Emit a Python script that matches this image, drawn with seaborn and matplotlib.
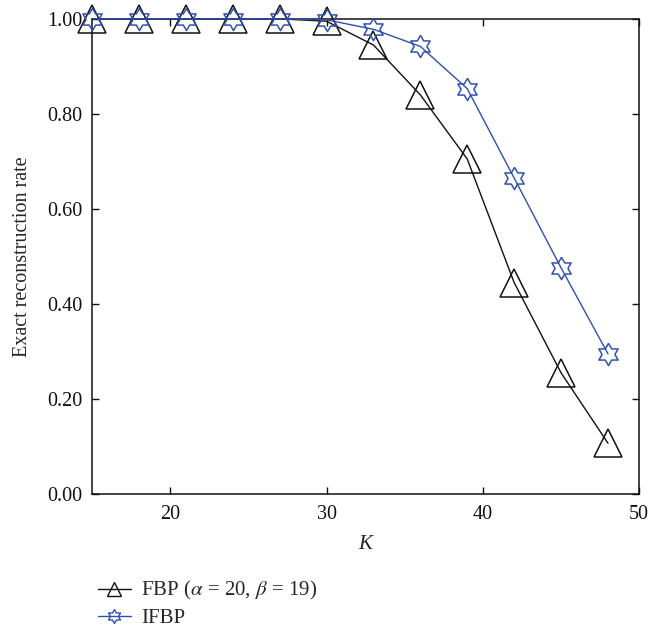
import numpy as np
import matplotlib
matplotlib.use("Agg")
import matplotlib.pyplot as plt
import seaborn as sns
from matplotlib.lines import Line2D

# data
K = [15, 18, 21, 24, 27, 30, 33, 36, 39, 42, 45, 48]
fbp = [1.0, 1.0, 1.0, 1.0, 1.0, 0.995, 0.945, 0.84, 0.705, 0.445, 0.255, 0.107]
ifbp = [1.0, 1.0, 1.0, 1.0, 1.0, 0.998, 0.978, 0.942, 0.853, 0.665, 0.476, 0.295]
labels = [r"FBP ($\alpha$ = 20, $\beta$ = 19)", "IFBP"]
xticks = [20, 30, 40, 50]
yticks = [0.0, 0.2, 0.4, 0.6, 0.8, 1.0]

sns.set_style("ticks")
plt.rcParams["font.family"] = ["Liberation Serif", "DejaVu Serif"]
plt.rcParams["mathtext.fontset"] = "stix"

black = "#111111"
blue = "#3050b0"

# hexagram outline (star of David) marker
ang_out = np.pi / 2 + np.arange(6) * np.pi / 3
ang_in = ang_out + np.pi / 6
r_in = 1 / np.sqrt(3)
verts = []
for a, b in zip(ang_out, ang_in):
    verts.append((np.cos(a), np.sin(a)))
    verts.append((r_in * np.cos(b), r_in * np.sin(b)))
verts.append(verts[0])
hexagram = verts

fig = plt.figure(figsize=(6.69, 6.28), dpi=100)
ax = fig.add_axes([0.1375, 0.2134, 0.818, 0.7566])

sns.lineplot(x=K, y=fbp, ax=ax, color=black, lw=1.0, marker="^", markersize=20,
             markerfacecolor="none", markeredgecolor=black, markeredgewidth=1.1,
             clip_on=False, zorder=3)
sns.lineplot(x=K, y=ifbp, ax=ax, color=blue, lw=1.0, marker=hexagram, markersize=16,
             markerfacecolor="none", markeredgecolor=blue, markeredgewidth=1.1,
             clip_on=False, zorder=4)

ax.set_xlim(15, 50)
ax.set_ylim(0, 1)
ax.set_xticks(xticks)
ax.set_yticks(yticks)
ax.set_yticklabels([f"{v:.2f}" for v in yticks])
ax.tick_params(direction="in", length=5, width=1, top=True, right=True,
               labelsize=14.5, colors=black)
ax.tick_params(axis="y", pad=7)
ax.tick_params(axis="x", pad=8)
for s in ax.spines.values():
    s.set_linewidth(1.1)
    s.set_color(black)

ax.set_xlabel("K", fontsize=15, style="italic", labelpad=8)
ax.set_ylabel("Exact reconstruction rate", fontsize=14.5, labelpad=11)

handles = [
    Line2D([], [], color=black, lw=1.0, marker="^", markersize=10,
           markerfacecolor="none", markeredgecolor=black),
    Line2D([], [], color=blue, lw=1.0, marker=hexagram, markersize=10,
           markerfacecolor="none", markeredgecolor=blue),
]
ax.legend(handles, labels, loc="upper left", bbox_to_anchor=(-0.005, -0.162),
          frameon=False, fontsize=15, handlelength=1.6, handletextpad=0.5,
          labelspacing=0.3, borderaxespad=0)

fig.savefig("out.png", dpi=100)
